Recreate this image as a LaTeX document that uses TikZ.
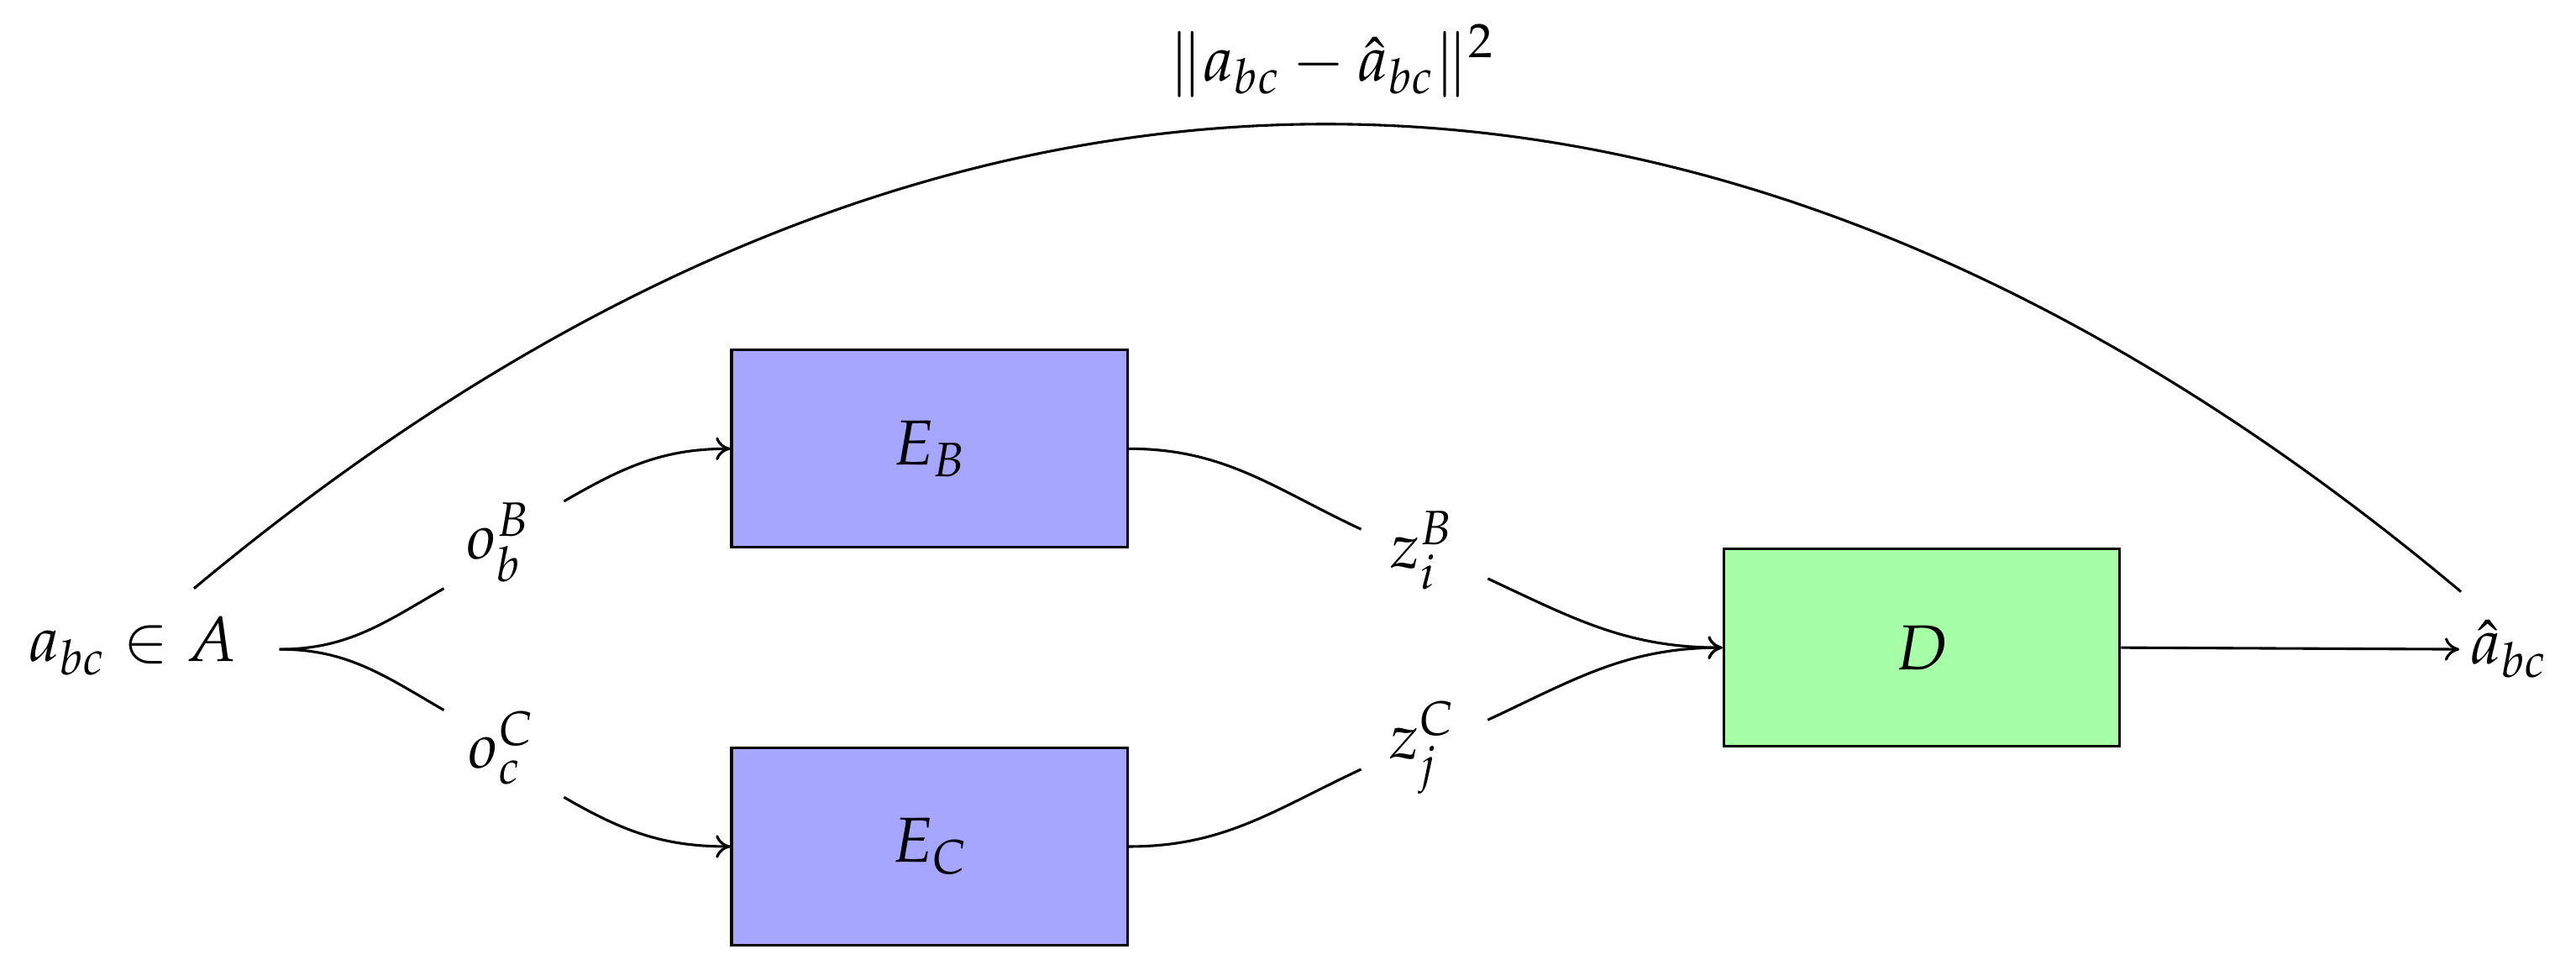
\documentclass[tikz,border=0pt]{standalone}
\usepackage{mathpazo}
\usetikzlibrary{arrows.meta}
\begin{document}
\begin{tikzpicture}[x=0.02cm,y=-0.02cm,
  every node/.style={font=\fontsize{22}{26}\selectfont},
  blk/.style={draw,line width=0.9pt,minimum width=4.82cm,minimum height=2.4cm,inner sep=0},
  ln/.style={line width=0.9pt},
  arr/.style={ln,-{To[length=5pt,width=8pt]}}]
\useasboundingbox (0,0) rectangle (1567,590);
\node (a) at (81,393) {$a_{bc}\in A$};
\coordinate (as) at (170,395);
\node (ob) at (303,330) {$o_b^B$};
\node (oc) at (305,455) {$o_c^C$};
\node[blk,fill=blue!35] (eb) at (565.5,273) {$E_B$};
\node[blk,fill=blue!35] (ec) at (565.5,515) {$E_C$};
\node (zb) at (865,335) {$z_i^B$};
\node (zc) at (865,455) {$z_j^C$};
\node[blk,fill=green!35] (d) at (1169,394) {$D$};
\node (ah) at (1526,395) {$\hat a_{bc}$};
\node (loss) at (810,37) {$\|a_{bc}-\hat a_{bc}\|^2$};
\coordinate (s1) at (118,358);
\coordinate (s2) at (1497,360);
\draw[ln] (as) to[out=0,in=-150] (270,358);
\draw[arr] (343,305) to[out=30,in=180] (eb.west);
\draw[ln] (as) to[out=0,in=150] (270,432);
\draw[arr] (343,485) to[out=-30,in=180] (ec.west);
\draw[ln] (eb.east) to[out=0,in=155] (828,322);
\draw[arr] (905,352) to[out=-25,in=180] (d.west);
\draw[ln] (ec.east) to[out=0,in=-155] (828,468);
\draw[arr] (905,438) to[out=25,in=180] (d.west);
\draw[arr] (d.east) -- (1496,395);
\draw[ln] (s1) .. controls (570,-19) and (1045,-19) .. (s2);
\end{tikzpicture}
\end{document}
